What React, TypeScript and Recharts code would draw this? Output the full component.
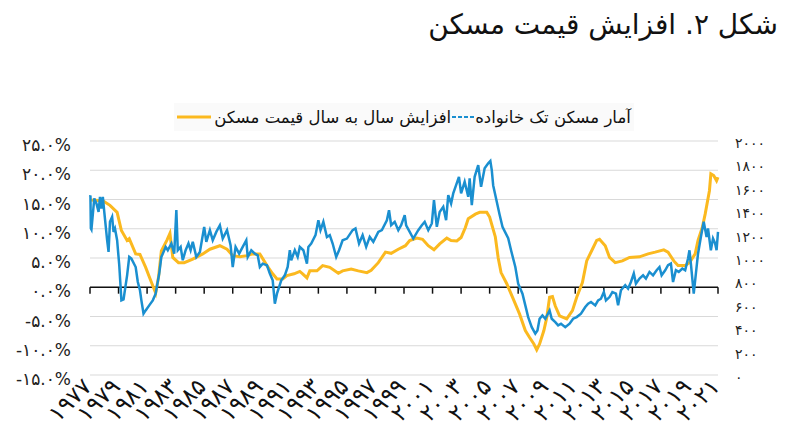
import { LineChart, Line, XAxis, YAxis, CartesianGrid, ReferenceLine } from 'recharts';

const FONT = '"DejaVu Sans", sans-serif';
const YELLOW = '#FBB91F';
const BLUE = '#1A8FD0';

const title = 'شکل ۲. افزایش قیمت مسکن';
const priceLabel = 'افزایش سال به سال قیمت مسکن';
const startsLabel = 'آمار مسکن تک خانواده';

const yearTicks = [1977, 1979, 1981, 1983, 1985, 1987, 1989, 1991, 1993, 1995, 1997, 1999, 2001, 2003, 2005, 2007, 2009, 2011, 2013, 2015, 2017, 2019, 2021];
const pctTicks = [-15, -10, -5, 0, 5, 10, 15, 20, 25];
const startsTicks = [0, 200, 400, 600, 800, 1000, 1200, 1400, 1600, 1800, 2000];

// year-over-year house price change, % (left axis)
const priceYears = [1977.0, 1977.9, 1978.4, 1978.9, 1979.2, 1979.6, 1979.75, 1980.2, 1980.5, 1980.9, 1981.2, 1981.6, 1981.8, 1982.0, 1982.4, 1982.6, 1982.8, 1983.2, 1983.6, 1984.2, 1984.9, 1985.4, 1986.1, 1986.6, 1987.0, 1987.5, 1988.0, 1988.4, 1988.9, 1989.4, 1989.8, 1990.1, 1990.5, 1990.8, 1991.3, 1991.7, 1991.9, 1992.2, 1992.4, 1992.9, 1993.3, 1993.8, 1994.4, 1994.7, 1995.3, 1995.8, 1996.4, 1996.7, 1997.2, 1997.7, 1998.1, 1998.6, 1999.1, 1999.4, 1999.9, 2000.3, 2000.7, 2001.1, 2001.5, 2002.0, 2002.3, 2002.7, 2003.0, 2003.3, 2003.5, 2004.0, 2004.3, 2004.8, 2005.0, 2005.4, 2005.6, 2005.8, 2006.2, 2006.6, 2007.1, 2007.5, 2007.8, 2008.1, 2008.3, 2008.5, 2008.8, 2009.0, 2009.2, 2009.4, 2009.6, 2009.9, 2010.4, 2010.8, 2011.1, 2011.5, 2011.8, 2012.2, 2012.5, 2012.7, 2013.1, 2013.4, 2013.8, 2014.3, 2014.8, 2015.5, 2016.1, 2016.6, 2017.2, 2017.5, 2017.9, 2018.2, 2018.7, 2019.0, 2019.4, 2019.6, 2019.9, 2020.1, 2020.4, 2020.5, 2020.7, 2020.9, 2021.0];
const priceValues = [14.9, 14.8, 14.0, 12.8, 9.7, 8.0, 8.3, 5.7, 5.6, 3.4, 1.5, -1.0, 1.7, 6.2, 8.1, 9.2, 5.1, 4.2, 4.2, 4.8, 5.7, 6.5, 7.1, 6.5, 5.4, 5.2, 5.4, 5.7, 5.7, 3.7, 2.3, 1.4, 1.4, 2.0, 2.3, 2.7, 2.3, 1.6, 2.8, 2.8, 3.7, 3.4, 2.4, 2.8, 3.1, 2.8, 2.5, 2.9, 4.2, 6.0, 5.8, 6.5, 7.1, 8.0, 8.4, 8.2, 7.1, 6.4, 7.4, 8.4, 8.0, 7.9, 8.5, 10.2, 11.7, 12.5, 12.8, 12.8, 12.0, 8.6, 5.0, 2.5, 0.6, -1.7, -4.6, -7.4, -8.6, -9.7, -10.7, -9.7, -7.4, -5.2, -1.7, -1.6, -3.2, -4.9, -5.4, -4.0, -1.7, 0.8, 4.5, 6.5, 8.0, 8.2, 7.1, 5.1, 4.2, 4.5, 5.1, 5.2, 5.7, 6.0, 6.4, 6.0, 4.5, 3.7, 3.7, 4.2, 5.7, 8.0, 10.2, 12.5, 16.5, 19.4, 19.1, 18.2, 18.8];

// single-family housing starts, thousands (right axis)
const startsYears = [1977.0, 1977.03, 1977.06, 1977.1, 1977.3, 1977.45, 1977.6, 1977.7, 1977.8, 1977.9, 1978.0, 1978.2, 1978.3, 1978.4, 1978.55, 1978.65, 1978.75, 1978.9, 1979.05, 1979.2, 1979.35, 1979.6, 1979.75, 1979.9, 1980.2, 1980.35, 1980.5, 1980.6, 1980.75, 1980.9, 1981.15, 1981.4, 1981.6, 1981.85, 1982.0, 1982.1, 1982.3, 1982.45, 1982.7, 1982.9, 1983.05, 1983.15, 1983.35, 1983.5, 1983.7, 1983.9, 1984.05, 1984.2, 1984.45, 1984.7, 1985.0, 1985.15, 1985.4, 1985.6, 1985.85, 1986.1, 1986.3, 1986.6, 1986.85, 1987.0, 1987.2, 1987.45, 1987.7, 1987.95, 1988.05, 1988.3, 1988.55, 1988.75, 1988.9, 1989.1, 1989.4, 1989.6, 1989.8, 1989.95, 1990.1, 1990.4, 1990.65, 1990.85, 1991.0, 1991.1, 1991.35, 1991.55, 1991.7, 1991.95, 1992.2, 1992.3, 1992.5, 1992.8, 1993.0, 1993.15, 1993.35, 1993.6, 1993.8, 1994.0, 1994.25, 1994.45, 1994.7, 1995.0, 1995.4, 1995.6, 1995.85, 1996.1, 1996.35, 1996.6, 1996.85, 1997.2, 1997.45, 1997.8, 1997.95, 1998.1, 1998.35, 1998.6, 1998.8, 1999.05, 1999.15, 1999.4, 1999.65, 2000.0, 2000.25, 2000.45, 2000.7, 2000.95, 2001.1, 2001.3, 2001.5, 2001.75, 2001.95, 2002.1, 2002.3, 2002.45, 2002.65, 2002.85, 2003.0, 2003.25, 2003.5, 2003.6, 2003.75, 2003.95, 2004.2, 2004.4, 2004.65, 2004.9, 2005.05, 2005.15, 2005.25, 2005.5, 2005.7, 2005.9, 2006.05, 2006.3, 2006.5, 2006.8, 2007.0, 2007.3, 2007.5, 2007.7, 2007.95, 2008.2, 2008.35, 2008.5, 2008.7, 2008.9, 2009.2, 2009.35, 2009.6, 2009.8, 2010.0, 2010.3, 2010.6, 2010.85, 2011.1, 2011.4, 2011.7, 2011.9, 2012.1, 2012.4, 2012.6, 2012.8, 2013.0, 2013.15, 2013.4, 2013.6, 2013.85, 2014.0, 2014.2, 2014.5, 2014.7, 2014.9, 2015.1, 2015.25, 2015.5, 2015.75, 2015.95, 2016.2, 2016.45, 2016.7, 2016.9, 2017.05, 2017.3, 2017.5, 2017.7, 2017.85, 2018.05, 2018.25, 2018.5, 2018.7, 2018.9, 2019.0, 2019.1, 2019.3, 2019.45, 2019.6, 2019.8, 2020.0, 2020.2, 2020.3, 2020.5, 2020.65, 2020.8, 2020.9, 2021.0];
const startsValues = [1525, 1535, 1252, 1243, 1509, 1466, 1394, 1523, 1423, 1523, 1394, 1152, 1052, 1309, 1351, 1223, 1252, 1152, 938, 638, 646, 852, 1009, 995, 923, 795, 724, 638, 524, 552, 595, 638, 695, 867, 1009, 1037, 1095, 1066, 1124, 1037, 1409, 1066, 1095, 981, 1066, 1124, 1066, 1138, 1009, 1052, 1266, 1138, 1238, 1152, 1223, 1280, 1166, 1238, 1109, 923, 1095, 1037, 1095, 1152, 1009, 1066, 1037, 1023, 923, 952, 938, 867, 809, 610, 695, 809, 852, 923, 1066, 981, 1066, 1009, 1095, 1066, 952, 1095, 1124, 1195, 1323, 1238, 1309, 1180, 1195, 1124, 1009, 1066, 1152, 1166, 1238, 1252, 1124, 1195, 1095, 1180, 1138, 1223, 1238, 1323, 1409, 1280, 1309, 1238, 1280, 1366, 1280, 1223, 1166, 1238, 1280, 1309, 1238, 1295, 1495, 1266, 1394, 1437, 1323, 1538, 1466, 1552, 1623, 1694, 1552, 1651, 1523, 1680, 1452, 1694, 1794, 1609, 1766, 1809, 1829, 1751, 1620, 1480, 1370, 1266, 1230, 1170, 1066, 923, 781, 695, 595, 495, 409, 353, 380, 481, 510, 481, 552, 481, 452, 424, 438, 409, 438, 481, 495, 524, 581, 610, 624, 595, 638, 652, 709, 638, 666, 709, 695, 595, 724, 767, 738, 795, 867, 781, 824, 852, 824, 881, 852, 895, 923, 852, 895, 938, 952, 795, 895, 881, 910, 895, 995, 1066, 952, 695, 867, 1037, 1180, 1309, 1180, 1252, 1066, 1166, 1124, 1066, 1223];

const priceData = priceYears.map((year, i) => ({ year, price: priceValues[i] }));
const startsData = startsYears.map((year, i) => ({ year, starts: startsValues[i] }));

const FA_DIGITS = '۰۱۲۳۴۵۶۷۸۹';
const fa = (s: string) => s.replace(/[0-9]/g, (d) => FA_DIGITS[Number(d)]);

const LeftTick = ({ x, y, payload }: any) => (
  <text x={x - 11} y={y + 4} textAnchor="end" dominantBaseline="central" fontSize={17} fill="#222" fontFamily={FONT}>
    {fa(payload.value.toFixed(1)) + '%'}
  </text>
);

const RightTick = ({ x, y, payload }: any) => (
  <text x={x + 9} y={y + 2} textAnchor="start" dominantBaseline="central" fontSize={14} letterSpacing={4} fill="#222" fontFamily={FONT}>
    {fa(String(payload.value))}
  </text>
);

const YearTick = ({ x, y, payload }: any) => (
  <text transform={`translate(${x + 3},${y + 5}) rotate(-45)`} textAnchor="end" fontSize={23} fill="#111" fontFamily={FONT}>
    {fa(String(payload.value))}
  </text>
);

export default function App() {
  return (
    <div style={{ position: 'absolute', left: 0, top: 0, width: 800, height: 445, background: '#fff', fontFamily: FONT }}>
      <div dir="rtl" style={{ position: 'absolute', right: 22, top: 8, fontSize: 28, color: '#111', whiteSpace: 'nowrap' }}>
        {title}
      </div>
      <div
        dir="rtl"
        style={{
          position: 'absolute', left: 174, top: 103, width: 460, height: 28, background: '#fafafa',
          display: 'flex', alignItems: 'center', justifyContent: 'center', fontSize: 16.5, color: '#111', whiteSpace: 'nowrap',
        }}
      >
        <span>{startsLabel}</span>
        <svg width={22} height={6} style={{ margin: '0 1px' }}>
          <line x1={0} y1={3} x2={22} y2={3} stroke={BLUE} strokeWidth={2} strokeDasharray="4 2" />
        </svg>
        <span>{priceLabel}</span>
        <svg width={34} height={6} style={{ marginRight: 3 }}>
          <line x1={0} y1={3} x2={34} y2={3} stroke={YELLOW} strokeWidth={3} />
        </svg>
      </div>
      <LineChart width={800} height={445} margin={{ top: 141, right: 10, bottom: 10, left: 10 }}>
        <CartesianGrid yAxisId="left" vertical={false} stroke="#d9d9d9" />
        <XAxis
          dataKey="year"
          type="number"
          domain={[1977, 2021]}
          ticks={yearTicks}
          axisLine={false}
          tickLine={false}
          height={60}
          interval={0}
          tick={<YearTick />}
        />
        <YAxis yAxisId="left" domain={[-15, 25]} ticks={pctTicks} width={80} axisLine={false} tickLine={false} tick={<LeftTick />} />
        <YAxis yAxisId="right" orientation="right" domain={[0, 2000]} ticks={startsTicks} width={72} axisLine={false} tickLine={false} tick={<RightTick />} />
        <ReferenceLine yAxisId="left" y={0} stroke="#111" strokeWidth={1.5} />
        {yearTicks.map((yr) => (
          <ReferenceLine
            key={yr}
            yAxisId="left"
            segment={[{ x: yr, y: 0 }, { x: yr, y: -1.1 }]}
            stroke="#111"
            strokeWidth={1.5}
          />
        ))}
        <Line yAxisId="left" data={priceData} dataKey="price" type="linear" stroke={YELLOW} strokeWidth={3} dot={false} isAnimationActive={false} />
        <Line yAxisId="right" data={startsData} dataKey="starts" type="linear" stroke={BLUE} strokeWidth={2.5} dot={false} isAnimationActive={false} />
      </LineChart>
    </div>
  );
}
